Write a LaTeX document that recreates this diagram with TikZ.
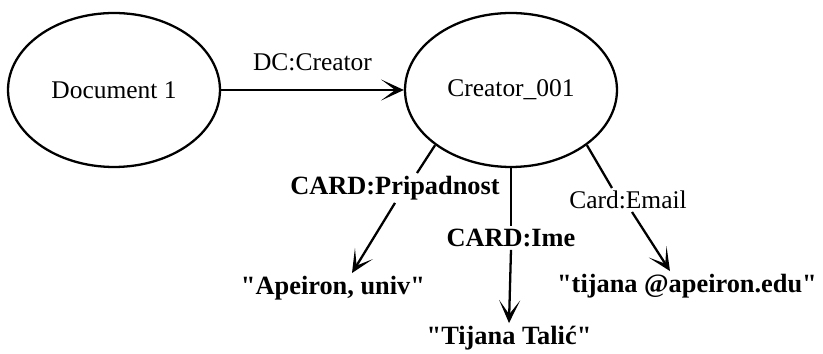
\documentclass[tikz,border=0pt]{standalone}
\usepackage{fontspec}
\setmainfont{Liberation Serif}
\usepackage{tikz}
\usetikzlibrary{arrows.meta, positioning, shapes.geometric, calc}

\begin{document}
\begin{tikzpicture}[x=0.02cm, y=-0.02cm,
    resnode/.style={draw, ellipse, line width=1.3pt, minimum width=4.24cm, minimum height=3.08cm,
      font=\fontsize{14.5}{17}\selectfont},
    proplbl/.style={inner sep=1.5pt, font=\fontsize{15}{17}\selectfont\bfseries},
    plainlbl/.style={inner sep=1.5pt, font=\fontsize{14.5}{17}\selectfont},
    litval/.style={inner sep=1.5pt, font=\fontsize{15}{17}\selectfont\bfseries},
    link/.style={line width=1.3pt},
    arc/.style={line width=1.3pt, -{Stealth[length=13pt, width=12pt, inset=8pt]}}]
  \useasboundingbox (0,0) rectangle (823,354);

  % --- resources ---
  \node[resnode] (doc) at (114,90) {Document 1};
  \node[resnode] (creator) at (511,90) {Creator\_001};
  \draw[arc] (doc) -- node[plainlbl, above=9pt] (dccreator) {DC:Creator} (creator);

  % --- property labels ---
  \node[proplbl] (pripad) at (395,188) {CARD:Pripadnost};
  \node[proplbl] (ime) at (511,238) {CARD:Ime};
  \node[plainlbl] (email) at (628,200) {Card:Email};

  % --- literal values ---
  \node[litval] (apeiron) at (333,288) {\textquotedbl Apeiron, univ\textquotedbl};
  \node[litval] (talic) at (509,338) {\textquotedbl Tijana Talić\textquotedbl};
  \node[litval] (mail) at (687,286) {\textquotedbl tijana @apeiron.edu\textquotedbl};

  % --- arcs ---
  \draw[link] (creator.216) -- ($(pripad.north)+(22,0)$);
  \draw[arc] (pripad.south) -- ($(apeiron.north)+(19,0)$);
  \draw[link] (creator.south) -- (ime.north);
  \draw[arc] (ime.south) -- (talic.north);
  \draw[link] (creator.-36) -- ($(email.north)+(-16,0)$);
  \draw[arc] ($(email.south)+(4,0)$) -- ($(mail.north)+(-17,0)$);
\end{tikzpicture}
\end{document}
